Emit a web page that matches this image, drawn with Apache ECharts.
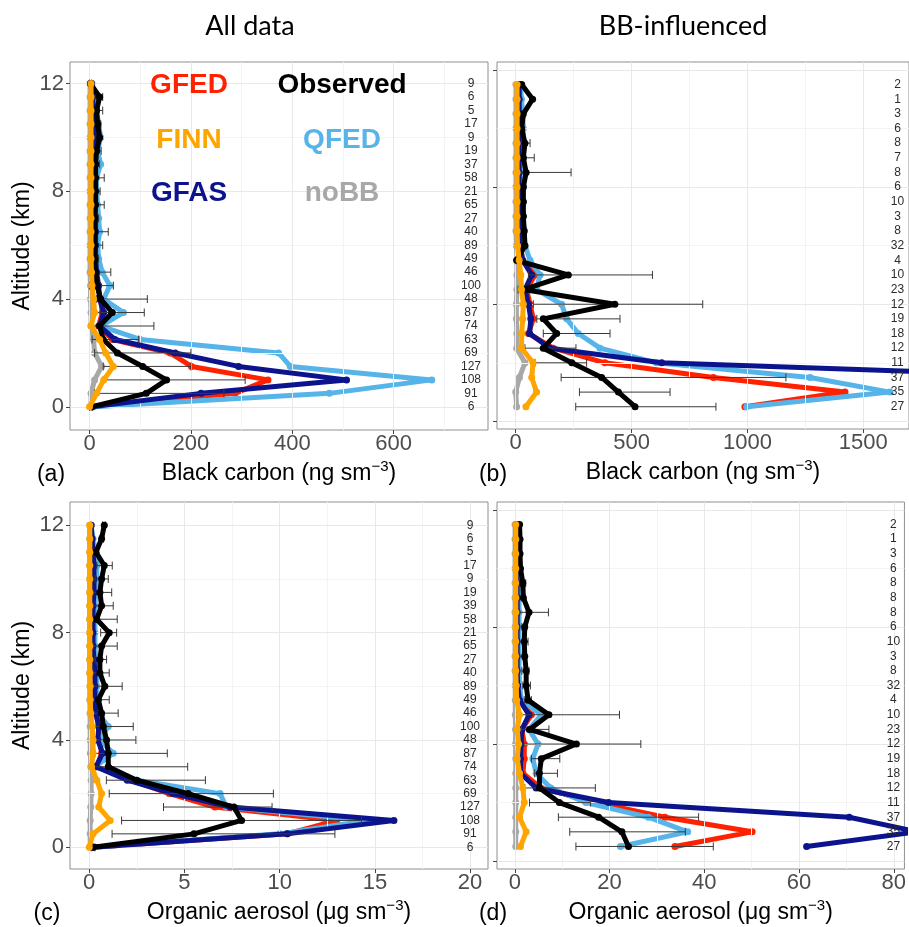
<!DOCTYPE html>
<html>
<head>
<meta charset="utf-8">
<script src="https://cdn.jsdelivr.net/npm/echarts@6/dist/echarts.min.js"></script>
<style>html,body{margin:0;padding:0;background:#fff}#c{width:909px;height:927px}</style>
</head>
<body>
<div id="c"></div>
<script>
// ---------------- DATA ----------------
const altAll = [12, 11.5, 11, 10.5, 10, 9.5, 9, 8.5, 8, 7.5, 7, 6.5, 6, 5.5, 5, 4.5, 4, 3.5, 3, 2.5, 2, 1.5, 1, 0.5, 0];
const altBB  = [11.5, 11, 10.5, 10, 9.5, 9, 8.5, 8, 7.5, 7, 6.5, 6, 5.5, 5, 4.5, 4, 3.5, 3, 2.5, 2, 1.5, 1, 0.5];

const nBC_all = [9, 6, 5, 17, 9, 19, 37, 58, 21, 65, 27, 40, 89, 49, 46, 100, 48, 87, 74, 63, 69, 127, 108, 91, 6];
const nOA_all = [9, 6, 5, 17, 9, 19, 39, 58, 21, 65, 27, 40, 89, 49, 46, 100, 48, 87, 74, 63, 69, 127, 108, 91, 6];
const nBC_bb  = [2, 1, 3, 6, 8, 7, 8, 6, 10, 3, 8, 32, 4, 10, 23, 12, 19, 18, 12, 11, 37, 35, 27];
const nOA_bb  = [2, 1, 3, 6, 8, 8, 8, 6, 10, 3, 8, 32, 4, 10, 23, 12, 19, 18, 12, 11, 37, 35, 27];

// (a) Black carbon, all data (ng sm-3)
const bcAll_obs  = [2, 20, 14, 16, 20, 14, 12, 12, 12, 12, 10, 10, 10, 10, 12, 15, 22, 45, 20, 27, 55, 105, 152, 112, 3];
const bcAll_lo   = [0, 14, 5, 8, 15, 6, 4, 0, 3, 0, 2, 0, 0, 2, 0, 0, 14, 10, 5, 5, 10, 27, 27, 10, 0];
const bcAll_hi   = [4, 26, 26, 22, 23, 23, 20, 29, 21, 29, 18, 37, 26, 18, 42, 47, 114, 108, 127, 97, 200, 200, 307, 265, 6];
const bcAll_GFED = [3, 5, 7, 8, 10, 8, 10, 8, 8, 8, 10, 10, 10, 10, 12, 15, 22, 25, 18, 45, 159, 201, 352, 287, 3];
const bcAll_FINN = [3, 3, 3, 3, 3, 3, 3, 3, 3, 3, 3, 3, 3, 3, 4, 5, 8, 10, 3, 20, 32, 47, 28, 14, 0];
const bcAll_QFED = [5, 10, 14, 18, 22, 16, 22, 14, 14, 16, 18, 20, 16, 18, 25, 40, 28, 67, 22, 100, 373, 396, 675, 473, 8];
const bcAll_GFAS = [4, 6, 8, 10, 12, 10, 12, 10, 10, 10, 12, 12, 12, 12, 14, 18, 20, 28, 20, 50, 169, 294, 507, 220, 5];
const bcAll_noBB = [1, 1, 1, 1, 1, 1, 1, 1, 1, 1, 1, 1, 1, 1, 1, 2, 2, 3, 3, 8, 10, 24, 10, 3, 3];

// (b) Black carbon, BB-influenced
const bcBB_obs  = [26, 73, 33, 26, 40, 33, 45, 33, 33, 33, 37, 40, 4, 227, 33, 428, 119, 177, 119, 242, 371, 443, 515];
const bcBB_lo   = [null, null, 26, 20, 25, 15, 10, 25, 28, 28, 30, 30, 0, 55, 10, 76, 91, 119, 40, 83, 196, 275, 259];
const bcBB_hi   = [null, null, 40, 32, 62, 80, 239, 40, 37, 38, 44, 45, 10, 590, 55, 807, 450, 407, 260, 306, 1166, 666, 864];
const bcBB_GFED = [15, 15, 15, 15, 15, 15, 15, 15, 15, 15, 15, 20, 30, 83, 47, 62, 76, 55, 162, 385, 853, 1421, 989];
const bcBB_FINN = [6, 6, 6, 6, 6, 6, 6, 6, 6, 6, 6, 8, 15, 22, 25, 33, 30, 26, 25, 75, 69, 90, 44];
const bcBB_QFED = [20, 25, 30, 33, 33, 33, 33, 33, 33, 33, 35, 40, 62, 105, 90, 198, 220, 270, 364, 608, 1270, 1615, 997];
const bcBB_GFAS = [15, 15, 15, 15, 15, 15, 15, 15, 15, 15, 15, 20, 30, 69, 40, 55, 65, 60, 148, 630, 2500, 3200, 2600];
const bcBB_noBB = [1, 1, 1, 1, 1, 1, 1, 1, 1, 1, 1, 3, 5, 5, 5, 3, 3, 5, 4, 40, 16, 0, 4];

// (c) Organic aerosol, all data (ug sm-3)
const oaAll_obs  = [0.79, 0.65, 0.35, 0.79, 0.65, 0.56, 0.65, 0.39, 1.05, 0.65, 0.56, 0.56, 0.82, 0.48, 0.65, 0.74, 0.91, 1.0, 1.0, 2.5, 5.2, 7.6, 8.0, 5.5, 0.2];
const oaAll_lo   = [0.7, 0.55, 0.25, 0.4, 0.3, 0.2, 0.2, 0.1, 0.6, 0.2, 0.3, 0.2, 0.1, 0.2, 0.2, 0.2, 0.3, 0.3, 0.2, 0.9, 1.05, 3.9, 1.7, 1.2, 0.1];
const oaAll_hi   = [0.85, 0.75, 0.45, 1.21, 1.0, 1.18, 1.26, 1.47, 1.44, 1.47, 0.91, 1.05, 1.73, 1.05, 1.52, 2.31, 2.45, 4.1, 5.17, 6.1, 9.67, 9.6, 14.3, 12.9, 0.3];
const oaAll_GFED = [0.1, 0.15, 0.2, 0.25, 0.25, 0.25, 0.2, 0.2, 0.2, 0.2, 0.25, 0.3, 0.3, 0.3, 0.35, 0.5, 0.55, 0.65, 0.4, 2.2, 4.2, 6.6, 13.0, 10.4, 0.2];
const oaAll_FINN = [0.03, 0.03, 0.03, 0.03, 0.03, 0.03, 0.03, 0.03, 0.03, 0.03, 0.03, 0.03, 0.05, 0.05, 0.08, 0.15, 0.2, 0.2, 0.12, 0.4, 0.65, 0.5, 1.1, 0.2, 0.0];
const oaAll_QFED = [0.1, 0.2, 0.35, 0.4, 0.4, 0.35, 0.3, 0.3, 0.3, 0.3, 0.35, 0.4, 0.4, 0.4, 0.45, 1.0, 0.56, 1.26, 0.3, 2.5, 6.87, 7.2, 14.6, 10.0, 0.21];
const oaAll_GFAS = [0.1, 0.15, 0.2, 0.25, 0.25, 0.25, 0.2, 0.2, 0.2, 0.2, 0.25, 0.3, 0.3, 0.3, 0.35, 0.5, 0.45, 0.7, 0.35, 2.0, 4.4, 7.4, 16.0, 10.4, 0.2];
const oaAll_noBB = [0.02, 0.02, 0.02, 0.02, 0.02, 0.02, 0.02, 0.02, 0.02, 0.02, 0.02, 0.02, 0.03, 0.03, 0.04, 0.05, 0.05, 0.06, 0.08, 0.1, 0.1, 0.08, 0.05, 0.05, 0.05];

// (d) Organic aerosol, BB-influenced
const oaBB_obs  = [1.0, 1.1, 1.1, 1.2, 1.7, 1.8, 3.0, 2.1, 2.0, 2.1, 2.4, 2.4, 2.8, 7.2, 3.1, 13.0, 5.6, 5.2, 5.2, 9.4, 17.7, 22.6, 24.0];
const oaBB_lo   = [null, null, 1.0, 1.0, 1.2, 1.5, 1.0, 1.5, 1.6, 1.6, 1.5, 1.7, 2.0, 0.5, 1.4, 1.0, 3.5, 4.2, 2.1, 3.1, 9.2, 11.6, 12.9];
const oaBB_hi   = [null, null, 1.2, 1.4, 2.3, 2.1, 7.1, 2.5, 2.8, 2.4, 3.0, 3.3, 3.5, 22.1, 7.2, 26.6, 9.5, 9.0, 17.0, 16.0, 38.8, 36.0, 41.9];
const oaBB_GFED = [0.3, 0.3, 0.3, 0.4, 0.5, 0.5, 0.5, 0.5, 0.5, 0.5, 0.5, 0.6, 1.0, 3.5, 1.5, 2.0, 2.0, 1.7, 5.5, 17.0, 31.7, 50.1, 33.8];
const oaBB_FINN = [0.2, 0.2, 0.2, 0.2, 0.2, 0.2, 0.2, 0.2, 0.2, 0.2, 0.2, 0.3, 0.4, 1.0, 0.5, 0.8, 0.5, 1.0, 1.7, 2.0, 1.0, 2.4, 1.2];
const oaBB_QFED = [0.5, 0.6, 0.7, 0.8, 0.9, 0.9, 0.9, 0.9, 0.9, 0.9, 0.9, 1.0, 1.4, 5.6, 3.0, 4.9, 3.8, 4.5, 7.6, 15.0, 28.2, 36.5, 22.3];
const oaBB_GFAS = [0.3, 0.3, 0.3, 0.4, 0.5, 0.5, 0.5, 0.5, 0.5, 0.5, 0.5, 0.6, 1.0, 3.0, 1.5, 1.3, 1.2, 1.2, 4.5, 19.8, 70.6, 85, 61.6];
const oaBB_noBB = [0.05, 0.05, 0.05, 0.05, 0.05, 0.05, 0.05, 0.05, 0.05, 0.05, 0.05, 0.08, 0.1, 0.1, 0.15, 0.15, 0.2, 0.2, 0.2, 0.2, 0.2, 0.2, 0.2];

// tick values
const xTicksA = [0, 200, 400, 600],       xMinorA = [100, 300, 500, 700];
const xTicksB = [0, 500, 1000, 1500],     xMinorB = [250, 750, 1250];
const xTicksC = [0, 5, 10, 15, 20],       xMinorC = [2.5, 7.5, 12.5, 17.5];
const xTicksD = [0, 20, 40, 60, 80],      xMinorD = [10, 30, 50, 70];
const yTicks = [0, 4, 8, 12],             yMinor = [2, 6, 10];

// ---------------- STYLE / LAYOUT ----------------
const F = "'Liberation Sans', Arial, sans-serif";
const COL = {GFED:'#ff2200', FINN:'#ffa500', QFED:'#56b4e9', GFAS:'#0b148c', noBB:'#a8a8a8', Observed:'#000000'};
const LW = 5, SS = 7;

const panels = [
  {grid:{left:70, top:62, width:418, height:368}, xr:[-38.5, 786], yr:[-0.86, 12.80], xt:xTicksA, xm:xMinorA, yLab:true,
   alt:altAll, n:nBC_all, obs:bcAll_obs, lo:bcAll_lo, hi:bcAll_hi,
   m:{GFED:bcAll_GFED, FINN:bcAll_FINN, QFED:bcAll_QFED, GFAS:bcAll_GFAS, noBB:bcAll_noBB}, cntOff:17,
   name:'{t|Black carbon (ng sm}{s|−3}{t|)}'},
  {grid:{left:497, top:62, width:412, height:367}, xr:[-80.7, 1697], yr:[-0.26, 12.27], xt:xTicksB, xm:xMinorB, yLab:false,
   alt:altBB, n:nBC_bb, obs:bcBB_obs, lo:bcBB_lo, hi:bcBB_hi,
   m:{GFED:bcBB_GFED, FINN:bcBB_FINN, QFED:bcBB_QFED, GFAS:bcBB_GFAS, noBB:bcBB_noBB}, cntOff:11.5,
   name:'{t|Black carbon (ng sm}{s|−3}{t|)}'},
  {grid:{left:70, top:502, width:418, height:367}, xr:[-1.01, 20.94], yr:[-0.81, 12.87], xt:xTicksC, xm:xMinorC, yLab:true,
   alt:altAll, n:nOA_all, obs:oaAll_obs, lo:oaAll_lo, hi:oaAll_hi,
   m:{GFED:oaAll_GFED, FINN:oaAll_FINN, QFED:oaAll_QFED, GFAS:oaAll_GFAS, noBB:oaAll_noBB}, cntOff:18,
   name:'{t|Organic aerosol (μg sm}{s|−3}{t|)}'},
  {grid:{left:497, top:502, width:412, height:367}, xr:[-3.76, 82.25], yr:[-0.27, 12.27], xt:xTicksD, xm:xMinorD, yLab:false,
   alt:altBB, n:nOA_bb, obs:oaBB_obs, lo:oaBB_lo, hi:oaBB_hi,
   m:{GFED:oaBB_GFED, FINN:oaBB_FINN, QFED:oaBB_QFED, GFAS:oaBB_GFAS, noBB:oaBB_noBB}, cntOff:11,
   name:'{t|Organic aerosol (μg sm}{s|−3}{t|)}'}
];

function zip(xs, ys){ return xs.map((v,i)=>[v, ys[i]]); }
function plain(v){ return String(v); }

const grids = [], xAxes = [], yAxes = [], series = [];
const modelOrder = [['noBB',2], ['GFED',3], ['QFED',4], ['GFAS',5]];

panels.forEach((p, i) => {
  grids.push(Object.assign({show:true, borderColor:'#8f8f8f', borderWidth:1, backgroundColor:'rgba(0,0,0,0)', containLabel:false}, p.grid));
  xAxes.push({
    type:'value', gridIndex:i, min:p.xr[0], max:p.xr[1],
    axisLine:{show:false, onZero:false},
    axisTick:{show:true, length:4, lineStyle:{color:'#444'}, customValues:p.xt},
    axisLabel:{show:true, customValues:p.xt, formatter:plain, margin:3, fontFamily:F, fontSize:22, color:'#4d4d4d'},
    splitLine:{show:false},
    name:p.name, nameLocation:'middle', nameGap:29,
    nameTextStyle:{rich:{
      t:{fontFamily:F, fontSize:23, color:'#000', lineHeight:30},
      s:{fontFamily:F, fontSize:15, color:'#000', lineHeight:15, verticalAlign:'top'}
    }}
  });
  yAxes.push({
    type:'value', gridIndex:i, min:p.yr[0], max:p.yr[1],
    axisLine:{show:false, onZero:false},
    axisTick:{show:true, length:4, lineStyle:{color:'#444'}, customValues:yTicks},
    axisLabel:{show:p.yLab, customValues:yTicks, formatter:plain, margin:6, fontFamily:F, fontSize:22, color:'#4d4d4d'},
    splitLine:{show:false},
    name:p.yLab ? 'Altitude (km)' : '', nameLocation:'middle', nameGap:36, nameRotate:90,
    nameTextStyle:{fontFamily:F, fontSize:23, color:'#000'}
  });

  // background grid lines (drawn via markLine on a hidden series)
  const gl = [];
  p.xm.forEach(v => gl.push({xAxis:v, lineStyle:{color:'#f4f4f4', width:1, type:'solid'}}));
  yMinor.forEach(v => gl.push({yAxis:v, lineStyle:{color:'#f4f4f4', width:1, type:'solid'}}));
  p.xt.forEach(v => gl.push({xAxis:v, lineStyle:{color:'#e8e8e8', width:1, type:'solid'}}));
  yTicks.forEach(v => gl.push({yAxis:v, lineStyle:{color:'#e8e8e8', width:1, type:'solid'}}));
  series.push({
    type:'line', xAxisIndex:i, yAxisIndex:i, data:[[p.xr[0], p.yr[0]]], symbol:'none',
    lineStyle:{opacity:0}, silent:true, z:1,
    markLine:{silent:true, symbol:['none','none'], label:{show:false}, animation:false, data:gl}
  });

  modelOrder.forEach(([k, z]) => {
    series.push({
      name:k, type:'line', xAxisIndex:i, yAxisIndex:i, data:zip(p.m[k], p.alt),
      symbol:'circle', symbolSize:SS, showSymbol:true, z:z,
      lineStyle:{width:LW, color:COL[k]}, itemStyle:{color:COL[k]}, clip:true
    });
  });

  // error bars
  const eb = [];
  p.alt.forEach((a, j) => { if (p.lo[j] != null && p.hi[j] != null) eb.push([p.lo[j], p.hi[j], a]); });
  series.push({
    type:'custom', xAxisIndex:i, yAxisIndex:i, data:eb, z:6, encode:{x:[0,1], y:2},
    renderItem:function(params, api){
      const lo = api.coord([api.value(0), api.value(2)]);
      const hi = api.coord([api.value(1), api.value(2)]);
      const c = 4, st = {stroke:'#3a3a3a', lineWidth:1};
      return {type:'group', children:[
        {type:'line', shape:{x1:lo[0], y1:lo[1], x2:hi[0], y2:hi[1]}, style:st},
        {type:'line', shape:{x1:lo[0], y1:lo[1]-c, x2:lo[0], y2:lo[1]+c}, style:st},
        {type:'line', shape:{x1:hi[0], y1:hi[1]-c, x2:hi[0], y2:hi[1]+c}, style:st}
      ]};
    }
  });

  series.push({
    name:'Observed', type:'line', xAxisIndex:i, yAxisIndex:i, data:zip(p.obs, p.alt),
    symbol:'circle', symbolSize:SS, showSymbol:true, z:7,
    lineStyle:{width:LW, color:COL.Observed}, itemStyle:{color:COL.Observed}
  });
  series.push({
    name:'FINN', type:'line', xAxisIndex:i, yAxisIndex:i, data:zip(p.m.FINN, p.alt),
    symbol:'circle', symbolSize:SS, showSymbol:true, z:8,
    lineStyle:{width:LW, color:COL.FINN}, itemStyle:{color:COL.FINN}
  });

  // sample counts on right side
  const off = p.cntOff, xmin = p.xr[0];
  series.push({
    type:'custom', xAxisIndex:i, yAxisIndex:i, data:zip(p.alt, p.n), z:9, encode:{y:0},
    renderItem:function(params, api){
      const y = api.coord([xmin, api.value(0)])[1];
      const x = params.coordSys.x + params.coordSys.width - off;
      return {type:'text', x:x, y:y, style:{text:String(api.value(1)), fontFamily:F, fontSize:12, fill:'#2b2b2b', align:'center', verticalAlign:'middle'}};
    }
  });
});

const TF = "Lato, 'Open Sans', sans-serif";
const LF = "bold 28px 'Liberation Sans', Arial, sans-serif";
function txt(s, x, y, font, fill){ return {type:'text', x:x, y:y, z:100, style:{text:s, font:font, fill:fill, align:'center', verticalAlign:'middle'}}; }

const graphics = [
  txt('All data', 250, 26, "27px " + TF, '#000'),
  txt('BB-influenced', 683, 26, "27px " + TF, '#000'),
  txt('GFED', 189, 85, LF, COL.GFED),
  txt('Observed', 342, 85, LF, COL.Observed),
  txt('FINN', 189, 140, LF, COL.FINN),
  txt('QFED', 342, 140, LF, COL.QFED),
  txt('GFAS', 189, 193, LF, COL.GFAS),
  txt('noBB', 342, 193, LF, COL.noBB),
  txt('(a)', 51, 475, "23px " + F, '#000'),
  txt('(b)', 493, 475, "23px " + F, '#000'),
  txt('(c)', 47, 914, "23px " + F, '#000'),
  txt('(d)', 493, 914, "23px " + F, '#000')
];

const chart = echarts.init(document.getElementById('c'), null, {renderer:'canvas'});
chart.setOption({
  animation:false,
  backgroundColor:'#ffffff',
  grid:grids, xAxis:xAxes, yAxis:yAxes, series:series,
  graphic:{elements:graphics}
});
</script>
</body>
</html>
